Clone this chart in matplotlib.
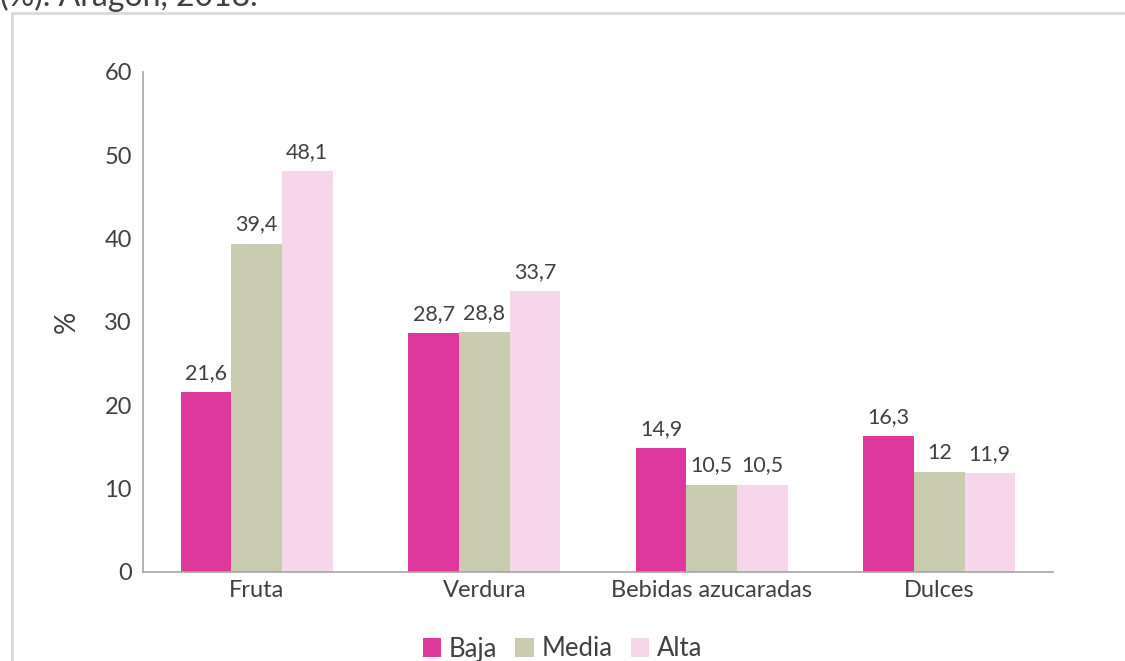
import numpy as np
import matplotlib
matplotlib.use('Agg')
import matplotlib.pyplot as plt
from matplotlib.patches import Rectangle

# Data
categories = ['Fruta', 'Verdura', 'Bebidas azucaradas', 'Dulces']
series_names = ['Baja', 'Media', 'Alta']
baja = [21.6, 28.7, 14.9, 16.3]
media = [39.4, 28.8, 10.5, 12]
alta = [48.1, 33.7, 10.5, 11.9]
colors = ['#DF389D', '#C9CCAE', '#F7D5EA']
y_ticks = [0, 10, 20, 30, 40, 50, 60]

TEXT = '#404040'
plt.rcParams['font.family'] = ['Lato', 'DejaVu Sans']

fig = plt.figure(figsize=(11.25, 6.61), dpi=100)
fig.patch.set_facecolor('white')

# outer frame (cut off at right and bottom)
fig.add_artist(Rectangle((11.5 / 1125, -0.1), 1.2, (661 - 13) / 661 + 0.1,
                         transform=fig.transFigure, fill=False,
                         edgecolor='#D9D9D9', linewidth=2))

# title remnant, cut off at the top like the reference
fig.text(0.0, (661 - 6) / 661, '(%). Aragón, 2018.', fontsize=23,
         color=TEXT, ha='left', va='baseline')

ax = fig.add_axes([143 / 1125, 89 / 661, 910 / 1125, 500 / 661])

x = np.arange(len(categories))
w = 0.6667 / 3
for i, (vals, name) in enumerate(zip([baja, media, alta], series_names)):
    pos = x + (i - 1) * w
    ax.bar(pos, vals, width=w, color=colors[i], label=name, zorder=2)
    for xp, v in zip(pos, vals):
        lbl = ('%g' % v).replace('.', ',')
        ax.text(xp, v + 1.1, lbl, ha='center', va='bottom', fontsize=15.5,
                color=TEXT)

ax.set_xlim(-0.5, 3.5)
ax.set_ylim(0, 60)
ax.set_yticks(y_ticks)
ax.set_xticks(x)
ax.set_xticklabels(categories)
ax.tick_params(axis='both', length=0, labelsize=17, colors=TEXT)
ax.tick_params(axis='y', pad=8)
ax.tick_params(axis='x', pad=6)

for s in ['top', 'right']:
    ax.spines[s].set_visible(False)
for s in ['left', 'bottom']:
    ax.spines[s].set_color('#A6A6A6')
    ax.spines[s].set_linewidth(1.2)

ax.set_ylabel('%', fontsize=20, color=TEXT, labelpad=18)

handles, labels = ax.get_legend_handles_labels()
fig.legend(handles, labels, loc='center', bbox_to_anchor=(0.5, 12 / 661),
           ncol=3, frameon=False, fontsize=18.5, handlelength=0.72,
           handleheight=0.72, handletextpad=0.3, columnspacing=0.7,
           labelcolor=TEXT)

fig.savefig('out.png', dpi=100)
